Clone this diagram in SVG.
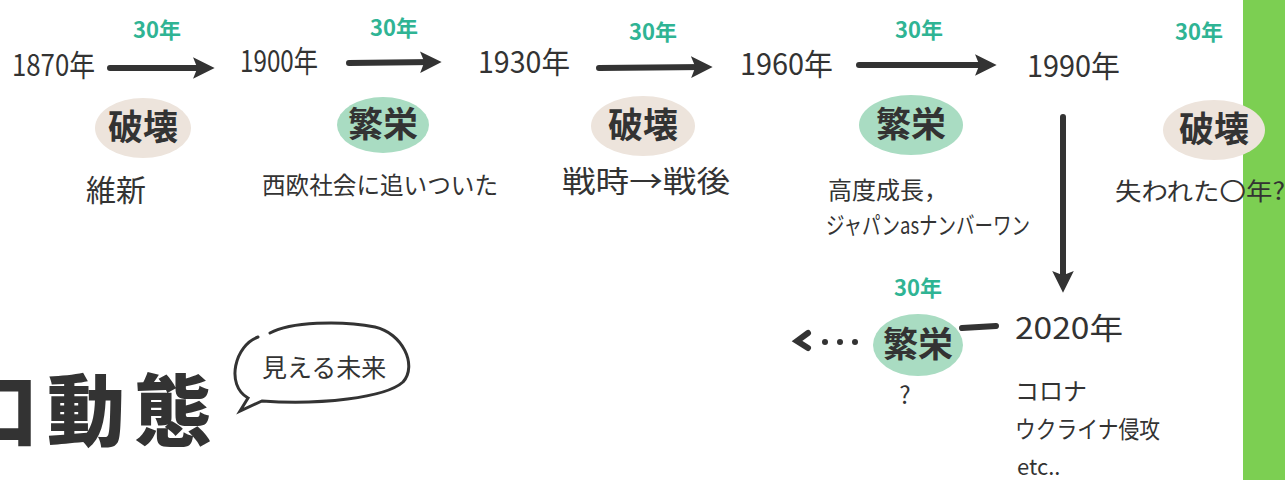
<svg xmlns="http://www.w3.org/2000/svg" width="1285" height="480" viewBox="0 0 1285 480">
<style>
.t{font-family:"Noto Sans CJK JP","Noto Sans",sans-serif;fill:#333;}
.yr{font-size:30px;}
.tl{font-size:22px;fill:#2fb494;font-weight:bold;}
.kw{font-size:35px;font-weight:bold;}
.sub{font-size:24px;}
.big{font-size:30px;}
.br{fill:#ede4dc;}
.pr{fill:#a9dcc2;}
.ln{stroke:#333;stroke-width:6;stroke-linecap:round;fill:none;}
</style>
<defs>
<marker id="ah" viewBox="0 0 10 10" refX="6" refY="5" markerWidth="3.6" markerHeight="3.6" orient="auto" markerUnits="strokeWidth">
<path d="M0,0 L10,5 L0,10 L2,5 Z" fill="#333"/>
</marker>
</defs>
<rect x="1243" y="0" width="42" height="480" fill="#7ccf52"/>
<g id="connectors">
<line class="ln" x1="110" y1="68" x2="206" y2="68" marker-end="url(#ah)"/>
<line class="ln" x1="349" y1="63" x2="433" y2="62" marker-end="url(#ah)"/>
<line class="ln" x1="599" y1="68" x2="704" y2="67" marker-end="url(#ah)"/>
<line class="ln" x1="859" y1="65" x2="988" y2="65" marker-end="url(#ah)"/>
<line class="ln" x1="1063" y1="117" x2="1063" y2="284" marker-end="url(#ah)"/>
<line class="ln" x1="962" y1="328" x2="996" y2="326"/>
<path class="ln" d="M808,333 L797,341 L808,348"/>
<circle cx="825" cy="342" r="3" fill="#333"/>
<circle cx="840" cy="342" r="3" fill="#333"/>
<circle cx="855" cy="342" r="3" fill="#333"/>
</g>
<g id="y1870"><text class="t yr" x="12" y="76" textLength="83" lengthAdjust="spacingAndGlyphs">1870年</text></g>
<g id="y1900"><text class="t yr" x="240" y="72" textLength="78" lengthAdjust="spacingAndGlyphs">1900年</text></g>
<g id="y1930"><text class="t yr" x="478" y="73" textLength="92" lengthAdjust="spacingAndGlyphs">1930年</text></g>
<g id="y1960"><text class="t yr" x="740" y="75" textLength="93" lengthAdjust="spacingAndGlyphs">1960年</text></g>
<g id="y1990"><text class="t yr" x="1027" y="77" textLength="93" lengthAdjust="spacingAndGlyphs">1990年</text></g>
<g id="y2020"><text class="t yr" x="1015" y="339" textLength="108" lengthAdjust="spacingAndGlyphs">2020年</text></g>
<g id="span1"><text class="t tl" x="157" y="38" text-anchor="middle">30年</text></g>
<g id="span2"><text class="t tl" x="394" y="36" text-anchor="middle">30年</text></g>
<g id="span3"><text class="t tl" x="653" y="40" text-anchor="middle">30年</text></g>
<g id="span4"><text class="t tl" x="919" y="38" text-anchor="middle">30年</text></g>
<g id="span5"><text class="t tl" x="1199" y="40" text-anchor="middle">30年</text></g>
<g id="span6"><text class="t tl" x="918" y="296" text-anchor="middle">30年</text></g>
<g id="p1"><ellipse class="br" cx="143" cy="128" rx="48" ry="30"/><text class="t kw" x="143" y="140" text-anchor="middle">破壊</text><text class="t big" x="116" y="201" text-anchor="middle">維新</text></g>
<g id="p2"><ellipse class="pr" cx="383" cy="125" rx="46" ry="28"/><text class="t kw" x="383" y="137" text-anchor="middle">繁栄</text><text class="t sub" x="262" y="194" textLength="236" lengthAdjust="spacingAndGlyphs">西欧社会に追いついた</text></g>
<g id="p3"><ellipse class="br" cx="643" cy="126" rx="52" ry="30"/><text class="t kw" x="643" y="138" text-anchor="middle">破壊</text><text class="t big" x="562" y="192" textLength="168" lengthAdjust="spacingAndGlyphs">戦時→戦後</text></g>
<g id="p4"><ellipse class="pr" cx="911" cy="125" rx="52" ry="30"/><text class="t kw" x="911" y="137" text-anchor="middle">繁栄</text><text class="t sub" x="828" y="199">高度成長，</text><text class="t sub" x="826" y="234" textLength="204" lengthAdjust="spacingAndGlyphs">ジャパンasナンバーワン</text></g>
<g id="p5"><ellipse class="br" cx="1214" cy="130" rx="51" ry="30"/><text class="t kw" x="1214" y="142" text-anchor="middle">破壊</text><text class="t sub" x="1115" y="200" textLength="170" lengthAdjust="spacingAndGlyphs">失われた〇年?</text></g>
<g id="p6"><ellipse class="pr" cx="918" cy="345" rx="45" ry="31"/><text class="t kw" x="918" y="357" text-anchor="middle">繁栄</text><text class="t sub" x="905" y="404" text-anchor="middle">?</text></g>
<g id="events2020"><text class="t sub" x="1015" y="400">コロナ</text><text class="t sub" x="1015" y="438" textLength="145" lengthAdjust="spacingAndGlyphs">ウクライナ侵攻</text><text class="t" x="1017" y="475" font-size="22">etc..</text></g>
<g id="title"><text class="t" x="-40" y="440" font-size="78" font-weight="900" letter-spacing="9">口動態</text></g>
<g id="bubble"><path d="M258,337 C235,345 225,385 248,398 L240,411 L262,401 C320,405 385,398 403,382 C418,365 402,333 375,327 C340,320 290,322 270,333" fill="none" stroke="#333" stroke-width="3" stroke-linecap="round"/><text class="t" x="262" y="377" font-size="25">見える未来</text></g>
</svg>
